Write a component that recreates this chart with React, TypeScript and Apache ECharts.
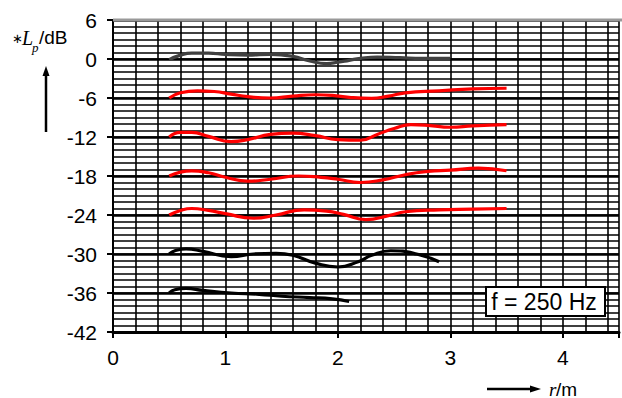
import React, { useEffect, useRef } from "react";
import * as echarts from "echarts";

// r in metres, Lp (relative) in dB, f = 250 Hz
const r0 = [0.5, 0.6, 0.7, 0.85, 1.0, 1.2, 1.4, 1.6, 1.75, 1.9, 2.0, 2.1, 2.2, 2.35, 2.55, 2.75, 3.0];
const lp0 = [-0.1, 0.6, 0.9, 0.9, 0.7, 0.6, 0.7, 0.4, -0.3, -0.7, -0.5, -0.2, 0.1, 0.3, 0.2, 0.1, 0.1];

const r6 = [0.5, 0.6, 0.75, 0.9, 1.05, 1.2, 1.4, 1.6, 1.8, 1.95, 2.1, 2.3, 2.45, 2.6, 2.9, 3.2, 3.5];
const lp6 = [-6.0, -5.2, -4.9, -5.0, -5.4, -5.8, -6.0, -5.7, -5.5, -5.6, -5.9, -6.05, -5.7, -5.2, -4.9, -4.6, -4.5];

const r12 = [0.5, 0.6, 0.7, 0.85, 1.05, 1.2, 1.4, 1.6, 1.8, 2.0, 2.2, 2.35, 2.5, 2.65, 2.8, 3.0, 3.2, 3.5];
const lp12 = [-12.0, -11.3, -11.3, -11.9, -12.7, -12.4, -11.6, -11.4, -11.8, -12.4, -12.5, -11.6, -10.7, -10.1, -10.2, -10.5, -10.3, -10.1];

const r18 = [0.5, 0.6, 0.7, 0.85, 1.0, 1.2, 1.4, 1.65, 1.85, 2.0, 2.2, 2.4, 2.6, 2.8, 3.0, 3.25, 3.5];
const lp18 = [-18.0, -17.4, -17.2, -17.5, -18.2, -18.8, -18.5, -18.0, -18.2, -18.5, -19.0, -18.6, -17.8, -17.3, -17.1, -16.8, -17.2];

const r24 = [0.5, 0.6, 0.7, 0.85, 1.0, 1.25, 1.45, 1.7, 1.9, 2.05, 2.25, 2.45, 2.6, 2.9, 3.2, 3.5];
const lp24 = [-24.0, -23.3, -23.0, -23.3, -23.8, -24.5, -24.0, -23.2, -23.4, -23.9, -24.7, -24.1, -23.5, -23.2, -23.1, -23.0];

const r30 = [0.5, 0.55, 0.65, 0.8, 1.05, 1.25, 1.45, 1.6, 1.8, 2.0, 2.18, 2.3, 2.47, 2.7, 2.9];
const lp30 = [-30.0, -29.5, -29.2, -29.6, -30.4, -30.0, -29.9, -30.2, -31.4, -32.0, -31.2, -30.2, -29.5, -30.0, -31.2];

const r36 = [0.5, 0.55, 0.65, 0.8, 1.05, 1.3, 1.5, 1.75, 1.95, 2.1];
const lp36 = [-36.0, -35.5, -35.3, -35.6, -36.0, -36.2, -36.5, -36.7, -36.9, -37.3];

const yTicks = [-42, -36, -30, -24, -18, -12, -6, 0, 6];
const xTicks = [0, 1, 2, 3, 4];

const curves = [
  { r: r0, lp: lp0, color: "#404040" },
  { r: r6, lp: lp6, color: "#ff0000" },
  { r: r12, lp: lp12, color: "#ff0000" },
  { r: r18, lp: lp18, color: "#ff0000" },
  { r: r24, lp: lp24, color: "#ff0000" },
  { r: r30, lp: lp30, color: "#000000" },
  { r: r36, lp: lp36, color: "#000000" },
];

const FONT = "Liberation Sans, Arial, sans-serif";
const SERIF = "Liberation Serif, Times New Roman, serif";

export default function App() {
  const ref = useRef<HTMLDivElement>(null);
  useEffect(() => {
    if (!ref.current) return;
    const chart = echarts.init(ref.current, null, { renderer: "svg" });
    const grid = { left: 113, top: 20, width: 510, height: 312 };
    chart.setOption({
      animation: false,
      grid: [grid],
      xAxis: [
        {
          type: "value",
          min: xTicks[0],
          max: 4.5,
          interval: 1,
          axisLine: { show: true, onZero: false, lineStyle: { color: "#000", width: 3 } },
          axisTick: { show: true, length: 6, lineStyle: { color: "#000", width: 2 } },
          axisLabel: {
            margin: 15,
            fontFamily: FONT,
            fontSize: 21,
            color: "#000",
            formatter: (v: number) => (xTicks.includes(v) ? String(v) : ""),
          },
          splitLine: { show: false },
          z: 5,
        },
        {
          type: "value",
          min: 0,
          max: 4.5,
          interval: 0.2,
          axisLine: { show: false },
          axisTick: { show: false },
          axisLabel: { show: false },
          splitLine: { show: true, lineStyle: { color: "#000", width: 1.6 } },
        },
      ],
      yAxis: [
        {
          type: "value",
          min: yTicks[0],
          max: yTicks[yTicks.length - 1],
          interval: 6,
          axisLine: { show: true, onZero: false, lineStyle: { color: "#000", width: 2 } },
          axisTick: { show: true, length: 6, lineStyle: { color: "#000", width: 2 } },
          axisLabel: { margin: 16, fontFamily: FONT, fontSize: 21, color: "#000" },
          splitLine: { show: true, lineStyle: { color: "#000", width: 2.5 } },
          z: 4,
        },
        {
          type: "value",
          min: -42,
          max: 6,
          interval: 1,
          position: "left",
          axisLine: { show: false },
          axisTick: { show: false },
          axisLabel: { show: false },
          splitLine: { show: true, lineStyle: { color: "#000", width: 1.5 } },
        },
      ],
      series: curves.map((c) => ({
        type: "line",
        xAxisIndex: 0,
        yAxisIndex: 0,
        data: c.r.map((x, i) => [x, c.lp[i]]),
        smooth: 0.5,
        showSymbol: false,
        symbol: "none",
        lineStyle: { color: c.color, width: 3.2 },
        z: 10,
      })),
      graphic: [
        { type: "line", z: 50, shape: { x1: 113, y1: 20, x2: 622, y2: 20 }, style: { stroke: "#999", lineWidth: 3 } },
        // legend box
        {
          type: "rect",
          z: 60,
          shape: { x: 486, y: 287, width: 119, height: 29 },
          style: { fill: "#fff", stroke: "#000", lineWidth: 2 },
        },
        {
          type: "text",
          z: 61,
          x: 544,
          y: 302,
          style: { text: "f = 250 Hz", font: `23px ${FONT}`, fill: "#000", align: "center", verticalAlign: "middle" },
        },
        // y title
        { type: "text", x: 12, y: 38, style: { text: "∗", font: `13px DejaVu Sans`, fill: "#000", verticalAlign: "middle" } },
        { type: "text", x: 22, y: 38, style: { text: "L", font: `italic 20px ${SERIF}`, fill: "#000", verticalAlign: "middle" } },
        { type: "text", x: 32, y: 47, style: { text: "p", font: `italic 13px ${SERIF}`, fill: "#000", verticalAlign: "middle" } },
        { type: "text", x: 39, y: 37, style: { text: "/dB", font: `19px ${FONT}`, fill: "#000", verticalAlign: "middle" } },
        { type: "line", shape: { x1: 46, y1: 132, x2: 46, y2: 74 }, style: { stroke: "#000", lineWidth: 2.5 } },
        { type: "polygon", shape: { points: [[46, 66], [42.5, 76], [49.5, 76]] }, style: { fill: "#000" } },
        // x title
        { type: "line", shape: { x1: 487, y1: 389, x2: 532, y2: 389 }, style: { stroke: "#000", lineWidth: 2.5 } },
        { type: "polygon", shape: { points: [[541, 389], [530, 385.5], [530, 392.5]] }, style: { fill: "#000" } },
        { type: "text", x: 549, y: 389, style: { text: "r", font: `italic 19px ${SERIF}`, fill: "#000", verticalAlign: "middle" } },
        { type: "text", x: 556, y: 389, style: { text: "/m", font: `19px ${FONT}`, fill: "#000", verticalAlign: "middle" } },
      ],
    });
    return () => chart.dispose();
  }, []);
  return <div ref={ref} style={{ width: 622, height: 398, position: "absolute", left: 0, top: 0 }} />;
}
